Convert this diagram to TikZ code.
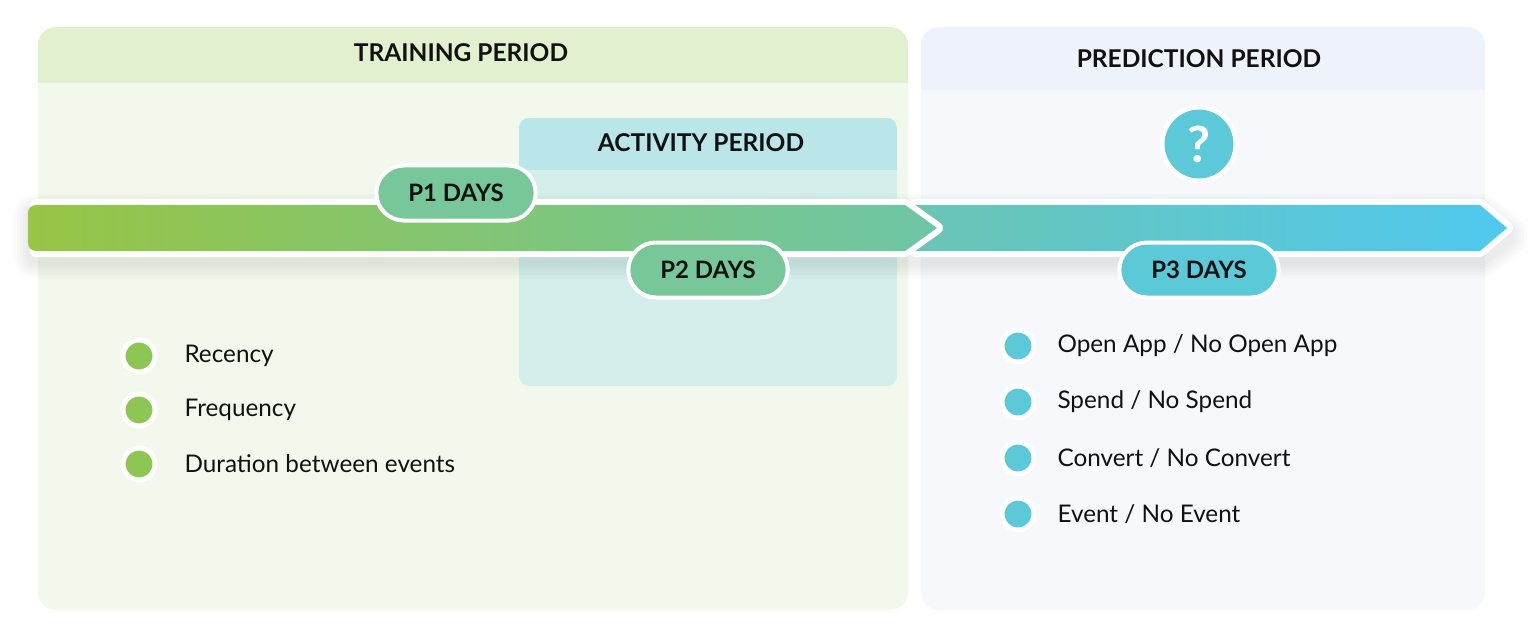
\documentclass[tikz,border=0pt]{standalone}
\usepackage{fontspec}
\setmainfont{Lato}
\usetikzlibrary{shapes.misc}
\definecolor{trhead}{HTML}{E2F0CF}
\definecolor{trbody}{HTML}{F3F8EC}
\definecolor{prhead}{HTML}{EEF2FA}
\definecolor{prbody}{HTML}{F6F8FC}
\definecolor{achead}{HTML}{BAE6EA}
\definecolor{acbody}{HTML}{D4EEEB}
\definecolor{gdot}{HTML}{8DC653}
\definecolor{bdot}{HTML}{5BC9D8}
\definecolor{gA}{HTML}{97C545}
\definecolor{gB}{HTML}{6DC6A6}
\definecolor{bA}{HTML}{6AC5B4}
\definecolor{bB}{HTML}{50C9EF}
\definecolor{pgreen}{HTML}{77C79A}
\definecolor{ink}{HTML}{111111}
\tikzset{
  headtxt/.style={font=\fontsize{24.5}{28}\selectfont\bfseries, text=ink},
  pill/.style={rounded rectangle, fill=#1, draw=white, line width=4pt, minimum width=166pt, minimum height=55pt, font=\fontsize{24}{28}\selectfont\bfseries, text=ink},
  dotg/.style={circle, fill=gdot, draw=white, line width=5pt, minimum size=32pt, inner sep=0pt},
  dotb/.style={circle, fill=bdot, draw=white, line width=5pt, minimum size=32pt, inner sep=0pt},
  item/.style={anchor=west, font=\fontsize{24.3}{28}\selectfont, text=ink},
  shadowline/.style={draw=black, opacity=0.015, line join=round},
}
\begin{document}
\begin{tikzpicture}[x=1pt,y=-1pt]
\useasboundingbox[fill=white] (0,0) rectangle (1536,639);
% training panel
\fill[trbody, rounded corners=18pt] (38,27) rectangle (908,610);
\begin{scope}
  \clip[rounded corners=18pt] (38,27) rectangle (908,610);
  \fill[trhead] (38,27) rectangle (908,83);
\end{scope}
\node[headtxt] (train) at (461,53) {TRAINING PERIOD};
% prediction panel
\fill[prbody, rounded corners=18pt] (921,27) rectangle (1485,610);
\begin{scope}
  \clip[rounded corners=18pt] (921,27) rectangle (1485,610);
  \fill[prhead] (921,27) rectangle (1485,90);
\end{scope}
\node[headtxt] (pred) at (1199,59) {PREDICTION PERIOD};
% activity box
\fill[acbody, rounded corners=10pt] (519,118) rectangle (897,386);
\begin{scope}
  \clip[rounded corners=10pt] (519,118) rectangle (897,386);
  \fill[achead] (519,118) rectangle (897,170);
\end{scope}
\node[headtxt] (act) at (701,143) {ACTIVITY PERIOD};
% arrow shadows
\foreach \w in {44,38,32,26,20} {
  \draw[shadowline, line width=\w pt] (36,216) -- (1480,216) -- (1505,236) -- (1480,256) -- (36,256) -- cycle;
}
% second arrow
\draw[white, line width=12pt, line join=round] (915,205) -- (1480,205) -- (1507,228) -- (1480,251) -- (915,251) -- cycle;
\shade[left color=bA, right color=bB] (915,205) -- (1480,205) -- (1507,228) -- (1480,251) -- (915,251) -- cycle;
% first arrow
\draw[white, line width=12pt, line join=round] (36,205) -- (905,205) -- (937,228) -- (905,251) -- (36,251) -- cycle;
\shade[left color=gA, right color=gB, rounded corners=8pt] (28,251) -- (28,205) -- (200,205) [sharp corners] -- (905,205) -- (937,228) -- (905,251) -- (200,251) [rounded corners=8pt] -- cycle;
% pills
\node[pill=pgreen] (p1) at (456,193) {P1 DAYS};
\node[pill=pgreen] (p2) at (708,270) {P2 DAYS};
\node[pill=bdot] (p3) at (1199,270) {P3 DAYS};
% question
\node[circle, fill=bdot, draw=white, line width=5pt, minimum size=74pt, inner sep=0pt, font=\fontsize{50}{52}\selectfont\bfseries, text=white] (q) at (1199,144) {?};
% training items
\node[dotg] (d1) at (139,356) {};
\node[dotg] (d2) at (139,410) {};
\node[dotg] (d3) at (139,464) {};
\node[item] (t1) at (181,356) {Recency};
\node[item] (t2) at (181,410) {Frequency};
\node[item] (t3) at (181,464) {Duration between events};
% prediction items
\node[dotb] (e1) at (1018,346) {};
\node[dotb] (e2) at (1018,402) {};
\node[dotb] (e3) at (1018,458) {};
\node[dotb] (e4) at (1018,514) {};
\node[item] (u1) at (1054,346) {Open App / No Open App};
\node[item] (u2) at (1054,402) {Spend / No Spend};
\node[item] (u3) at (1054,458) {Convert / No Convert};
\node[item] (u4) at (1054,514) {Event / No Event};
\end{tikzpicture}
\end{document}
